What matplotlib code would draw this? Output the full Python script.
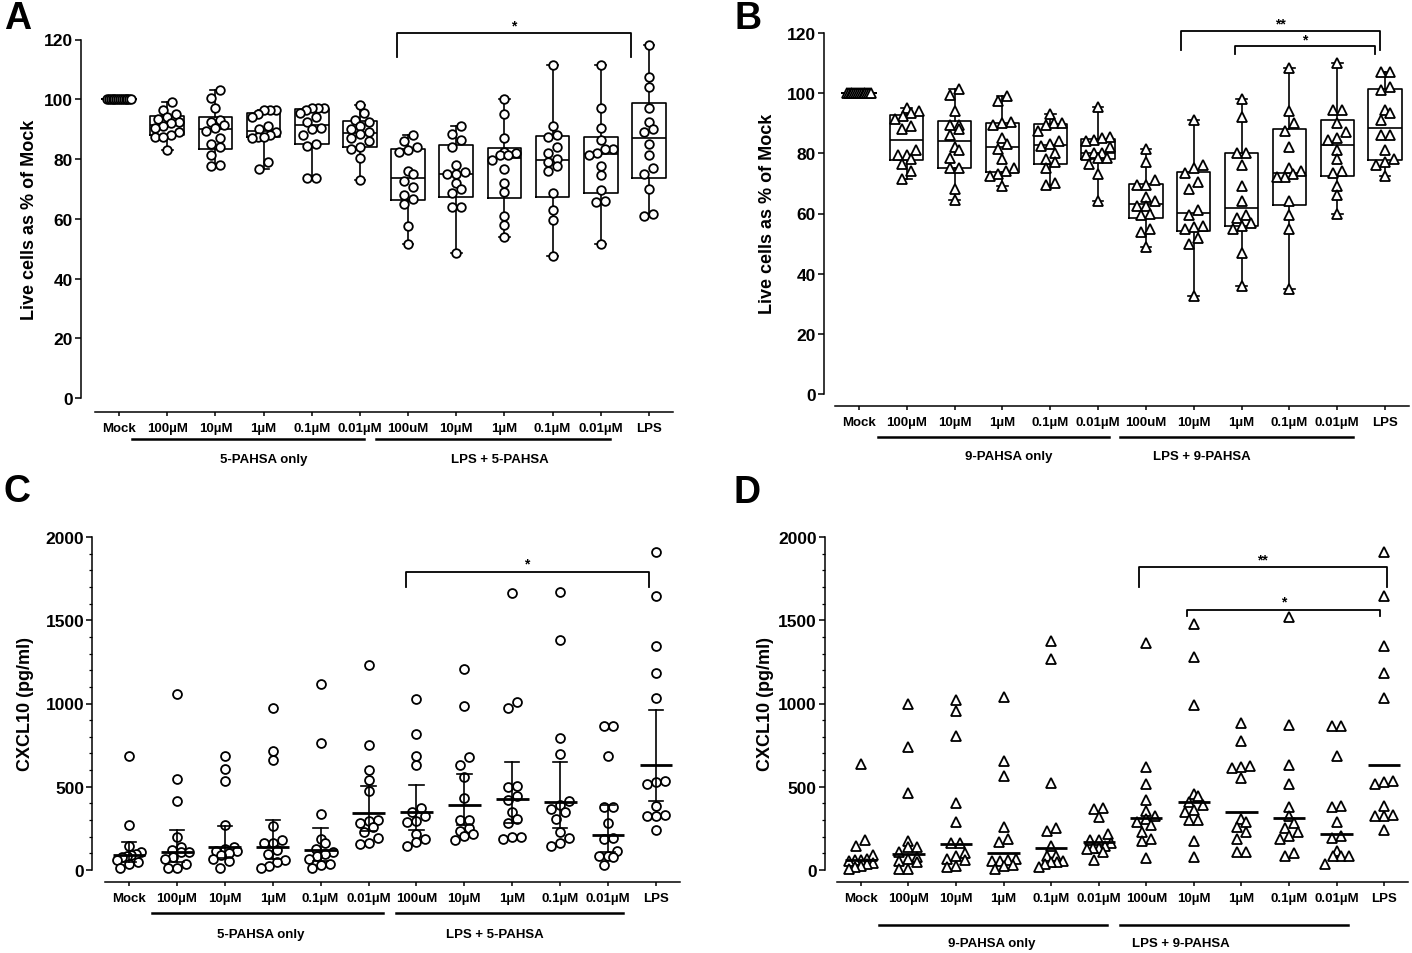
import numpy as np
import matplotlib
matplotlib.use("Agg")
import matplotlib.pyplot as plt
import matplotlib.transforms as mtransforms

plt.rcParams["font.family"] = ["Liberation Sans", "DejaVu Sans"]
plt.rcParams["font.weight"] = "bold"

W, H = 1412, 954

groups = ["Mock", "100µM", "10µM", "1µM", "0.1µM", "0.01µM",
          "100uM", "10µM", "1µM", "0.1µM", "0.01µM", "LPS"]

# live cells as % of mock, 5-PAHSA
viab_5 = [
    [100, 100, 100, 100, 100, 100, 100, 100, 100, 100, 100, 100, 100, 100],
    [99, 96.5, 95, 94, 93.5, 92.5, 92, 91, 90.5, 89, 88, 87.5, 87.5, 83],
    [103, 100.5, 97, 93, 92.5, 91.5, 90.5, 89.5, 87, 85, 84, 81.5, 78, 77.5],
    [96.5, 96.5, 96.5, 95, 94, 91, 90, 89, 88, 87.5, 87.5, 87, 79, 76.5],
    [97, 97, 97, 96.5, 95.5, 94, 92.5, 90.5, 90, 88, 85, 84.5, 73.5, 73.5],
    [98, 95.5, 93, 92.5, 91, 90, 89, 88.5, 87, 86, 84, 83.5, 80.5, 73],
    [88, 86, 84, 83, 82.5, 76, 75, 72.5, 70.5, 68, 66.5, 65, 57.5, 51.5],
    [91, 88.5, 86.5, 84, 78, 75.5, 75, 75, 72, 70, 68.5, 64, 64, 48.5],
    [100, 95, 87, 82.5, 82, 81.5, 81.5, 79.5, 76.5, 72, 69, 61, 58, 54],
    [111.5, 91, 88, 87.5, 84, 82, 80, 79, 77.5, 76, 68.5, 63, 59.5, 47.5],
    [111.5, 97, 90.5, 86.5, 83.5, 83.5, 82, 81.5, 77.5, 74.5, 69.5, 66, 65.5, 51.5],
    [118, 107.5, 104, 97, 92.5, 90, 89, 85, 81.5, 77, 75, 70, 61.5, 61],
]

# live cells as % of mock, 9-PAHSA
viab_9 = [
    [100, 100, 100, 100, 100, 100, 100, 100, 100, 100, 100, 100, 100, 100],
    [95, 94, 93.5, 92.5, 91.5, 89, 88, 81, 79.5, 79.5, 78, 76.5, 74, 71.5],
    [101.5, 99.5, 94, 89.5, 89.5, 88, 86, 82, 81, 78.5, 75, 75, 68, 64.5],
    [99, 97.5, 90.5, 90, 89.5, 85, 83, 81.5, 78, 75, 74, 73, 72.5, 69],
    [93, 90, 90, 89.5, 87.5, 84, 83, 82.5, 80, 78, 77, 75, 70, 69.5],
    [95.5, 85.5, 85, 84.5, 84, 82, 80, 80, 79.5, 78.5, 78.5, 76.5, 73, 64],
    [81.5, 77, 71, 69.5, 69.5, 65.5, 64, 62.5, 62.5, 60, 59.5, 55, 54, 49],
    [91, 76, 75, 73.5, 70.5, 68, 61, 59.5, 56, 55.5, 55, 52, 50, 32.5],
    [98, 92, 80, 80, 76, 69, 64, 59.5, 58.5, 57, 56, 55, 47, 36],
    [108.5, 94, 90, 87.5, 82, 75, 74, 73, 72, 72, 64, 59.5, 55, 35],
    [110, 94.5, 94.5, 90, 87, 85, 84.5, 81, 78, 74, 73.5, 69, 66, 60],
    [107, 107, 102, 101, 94.5, 93.5, 91, 86, 86, 81, 78, 77, 76, 72.5],
]

# CXCL10 pg/ml, 5-PAHSA
cxcl_5 = [
    [686, 272, 146, 106, 96, 90, 86, 80, 62, 50, 36, 12],
    [1056, 546, 412, 196, 140, 122, 106, 106, 76, 66, 34, 14, 14],
    [686, 606, 532, 272, 140, 126, 116, 112, 100, 90, 66, 56, 14],
    [970, 716, 658, 262, 180, 162, 162, 122, 96, 62, 50, 26, 14],
    [1120, 764, 336, 186, 162, 126, 106, 96, 86, 66, 34, 30, 14],
    [1230, 752, 602, 538, 476, 300, 296, 280, 256, 226, 190, 160, 156],
    [1026, 816, 686, 632, 370, 346, 322, 296, 286, 216, 186, 166, 146],
    [1206, 986, 676, 632, 556, 430, 302, 302, 250, 236, 216, 206, 180],
    [1665, 1010, 972, 506, 500, 446, 420, 346, 306, 280, 196, 196, 186],
    [1670, 1380, 790, 696, 412, 390, 366, 346, 306, 230, 190, 160, 146],
    [862, 862, 682, 376, 376, 280, 192, 186, 112, 82, 82, 76, 32],
    [1910, 1645, 1346, 1186, 1032, 532, 530, 516, 386, 330, 326, 326, 242],
]

# CXCL10 pg/ml, 9-PAHSA
cxcl_9 = [
    [636, 180, 146, 92, 66, 62, 60, 56, 40, 36, 26, 20, 6],
    [1000, 740, 460, 176, 136, 136, 106, 80, 66, 56, 50, 5, 5],
    [1020, 952, 802, 400, 290, 162, 162, 100, 82, 66, 60, 26, 16],
    [1040, 652, 566, 260, 186, 166, 66, 60, 56, 56, 30, 26, 6],
    [1376, 1270, 520, 250, 236, 146, 86, 86, 56, 50, 46, 36, 16],
    [370, 366, 316, 216, 180, 180, 160, 146, 130, 130, 126, 106, 62],
    [1366, 616, 516, 420, 356, 322, 306, 290, 270, 230, 186, 172, 72],
    [1480, 1282, 990, 456, 446, 406, 392, 360, 350, 300, 300, 172, 76],
    [882, 776, 624, 620, 610, 550, 306, 290, 256, 230, 186, 110, 110],
    [1520, 872, 632, 516, 376, 326, 282, 250, 230, 206, 186, 102, 86],
    [866, 862, 686, 386, 380, 286, 202, 190, 116, 82, 82, 82, 36],
    [1910, 1645, 1346, 1186, 1032, 532, 530, 516, 386, 330, 326, 326, 242],
]

# two-sided 95% t quantiles by degrees of freedom
T95 = {9: 2.262, 10: 2.228, 11: 2.201, 12: 2.179, 13: 2.160}


def make_ax(x0, x1, ytop, ybot):
    return fig.add_axes([x0 / W, 1 - ybot / H, (x1 - x0) / W, (ybot - ytop) / H])


def style_ax(ax, ylim, yticks, left_off, bottom_off, minor=None):
    ax.set_xlim(-0.5, 11.5)
    ax.set_ylim(*ylim)
    ax.spines["top"].set_visible(False)
    ax.spines["right"].set_visible(False)
    ax.spines["left"].set_position(("outward", left_off * 0.72))
    ax.spines["bottom"].set_position(("outward", bottom_off * 0.72))
    for s in ("left", "bottom"):
        ax.spines[s].set_linewidth(1.1)
    ax.set_yticks(yticks)
    if minor is not None:
        ax.set_yticks(minor, minor=True)
        ax.tick_params(axis="y", which="minor", length=2, width=0.9)
    ax.set_xticks(range(len(groups)))
    ax.set_xticklabels(groups, fontsize=9.5, fontweight="bold")
    ax.tick_params(axis="y", which="major", length=4, width=1.1, labelsize=12.5, pad=2)
    ax.tick_params(axis="x", length=3, width=1.1, pad=4)
    for lab in ax.get_yticklabels():
        lab.set_fontweight("bold")
    ax.patch.set_alpha(0)


def swarm_x(ax, xc, vals, diam=9.0, half_max=12.0):
    vals = np.asarray(vals, float)
    py = ax.transData.transform(np.column_stack([np.full(vals.size, xc), vals]))[:, 1]
    px_unit = ax.transData.transform((1, 0))[0] - ax.transData.transform((0, 0))[0]
    order = np.argsort(py)
    offs = np.zeros(vals.size)
    rows, cur = [], [order[0]]
    for i in order[1:]:
        if py[i] - py[cur[0]] < diam * 0.9:
            cur.append(i)
        else:
            rows.append(cur)
            cur = [i]
    rows.append(cur)
    for row in rows:
        k = len(row)
        if k > 1:
            step = min(diam, 2 * half_max / (k - 1))
            for j, i in enumerate(row):
                offs[i] = (j - (k - 1) / 2) * step
    return xc + offs / px_unit


def draw_points(ax, data, marker, ms):
    for i, v in enumerate(data):
        xs = swarm_x(ax, i, v)
        ax.plot(xs, v, linestyle="none", marker=marker, ms=ms, mfc="white",
                mec="black", mew=1.3, zorder=3, clip_on=False)


def draw_boxes(ax, data):
    stats = []
    for v in data:
        q1, med, q3 = np.percentile(v, [25, 50, 75], method="weibull")
        stats.append(dict(med=med, q1=q1, q3=q3, whislo=min(v), whishi=max(v), fliers=[]))
    lp = dict(color="black", linewidth=1.2)
    ax.bxp(stats, positions=range(len(data)), widths=0.7, capwidths=0.22,
           showfliers=False, manage_ticks=False, boxprops=lp, whiskerprops=lp,
           capprops=lp, medianprops=lp)


def geo_stats(v):
    logs = np.log(np.asarray(v, float))
    n = logs.size
    m = logs.mean()
    half = T95[n - 1] * logs.std(ddof=1) / np.sqrt(n)
    return np.exp(m), np.exp(m - half), np.exp(m + half)


def draw_geo(ax, data, with_ci):
    for i, v in enumerate(data):
        gm, lo, hi = geo_stats(v)
        ax.plot([i - 0.34, i + 0.34], [gm, gm], color="black", lw=2.0, zorder=4,
                solid_capstyle="butt")
        if with_ci:
            ax.plot([i, i], [lo, hi], color="black", lw=1.2, zorder=4)
            for y in (lo, hi):
                ax.plot([i - 0.15, i + 0.15], [y, y], color="black", lw=1.2, zorder=4)


def bracket(ax, x1, x2, y, ydrop, label, xt, yt):
    ax.plot([x1, x1, x2, x2], [ydrop, y, y, ydrop], color="black", lw=1.3,
            clip_on=False, zorder=5)
    ax.text(xt, yt, label, ha="center", va="center", fontsize=10, fontweight="bold")


def group_bars(ax, spans, labels, line_px, label_px):
    blend = mtransforms.blended_transform_factory(ax.transData, ax.transAxes)
    tl = mtransforms.offset_copy(blend, fig=fig, y=-line_px, units="dots")
    tt = mtransforms.offset_copy(blend, fig=fig, y=-label_px, units="dots")
    for (a, b), (lab, xc) in zip(spans, labels):
        ax.plot([a, b], [0, 0], color="black", lw=1.8, transform=tl, clip_on=False)
        ax.text(xc, 0, lab, transform=tt, ha="center", va="center",
                fontsize=9.5, fontweight="bold")


fig = plt.figure(figsize=(W / 100, H / 100), dpi=100)

# panel A
axA = make_ax(95, 673, 40.5, 399)
style_ax(axA, (0, 120), range(0, 121, 20), 14, 14)
draw_boxes(axA, viab_5)
draw_points(axA, viab_5, "o", 6.2)
bracket(axA, 5.76, 10.62, 122.2, 114.1, "*", 8.2, 124.6)
group_bars(axA, [(0.27, 5.08), (5.33, 10.2)],
           [("5-PAHSA only", 3.0), ("LPS + 5-PAHSA", 7.9)], 41, 61)

# panel B
axB = make_ax(835, 1409, 34, 395)
style_ax(axB, (0, 120), range(0, 121, 20), 11, 12)
draw_boxes(axB, viab_9)
draw_points(axB, viab_9, "^", 6.6)
bracket(axB, 6.74, 10.89, 120.7, 114.2, "**", 8.81, 123.3)
bracket(axB, 7.87, 10.79, 115.6, 113.1, "*", 9.32, 118.0)
group_bars(axB, [(0.40, 5.23), (5.46, 10.32)],
           [("9-PAHSA only", 3.14), ("LPS + 9-PAHSA", 7.18)], 43, 62)

# panel C
axC = make_ax(105, 680, 538, 871)
style_ax(axC, (0, 2000), range(0, 2001, 500), 12.5, 12, minor=range(0, 2001, 100))
draw_points(axC, cxcl_5, "o", 6.4)
draw_geo(axC, cxcl_5, True)
bracket(axC, 5.79, 10.85, 1790, 1700, "*", 8.3, 1840)
group_bars(axC, [(0.49, 5.31), (5.58, 10.3)],
           [("5-PAHSA only", 2.76), ("LPS + 5-PAHSA", 7.63)], 43, 64)

# panel D
axD = make_ax(837, 1408, 538, 871)
style_ax(axD, (0, 2000), range(0, 2001, 500), 12, 12, minor=range(0, 2001, 100))
draw_points(axD, cxcl_9, "^", 6.8)
draw_geo(axD, cxcl_9, False)
bracket(axD, 5.84, 11.06, 1822, 1698, "**", 8.43, 1866)
bracket(axD, 6.86, 10.92, 1564, 1528, "*", 8.89, 1610)
group_bars(axD, [(0.38, 5.18), (5.44, 10.24)],
           [("9-PAHSA only", 2.76), ("LPS + 9-PAHSA", 6.73)], 55, 73)

# axis titles and panel letters
fig.text(29 / W, 1 - 220 / H, "Live cells as % of Mock", rotation=90,
         ha="center", va="center", fontsize=13, fontweight="bold")
fig.text(767 / W, 1 - 214 / H, "Live cells as % of Mock", rotation=90,
         ha="center", va="center", fontsize=13, fontweight="bold")
fig.text(26 / W, 1 - 704 / H, "CXCL10 (pg/ml)", rotation=90,
         ha="center", va="center", fontsize=13, fontweight="bold")
fig.text(765 / W, 1 - 704 / H, "CXCL10 (pg/ml)", rotation=90,
         ha="center", va="center", fontsize=13, fontweight="bold")
for letter, x, y in [("A", 18, 19), ("B", 748, 19), ("C", 17, 492), ("D", 747, 493)]:
    fig.text(x / W, 1 - y / H, letter, ha="center", va="center",
             fontsize=27, fontweight="bold")

fig.savefig("out.png", dpi=100)
